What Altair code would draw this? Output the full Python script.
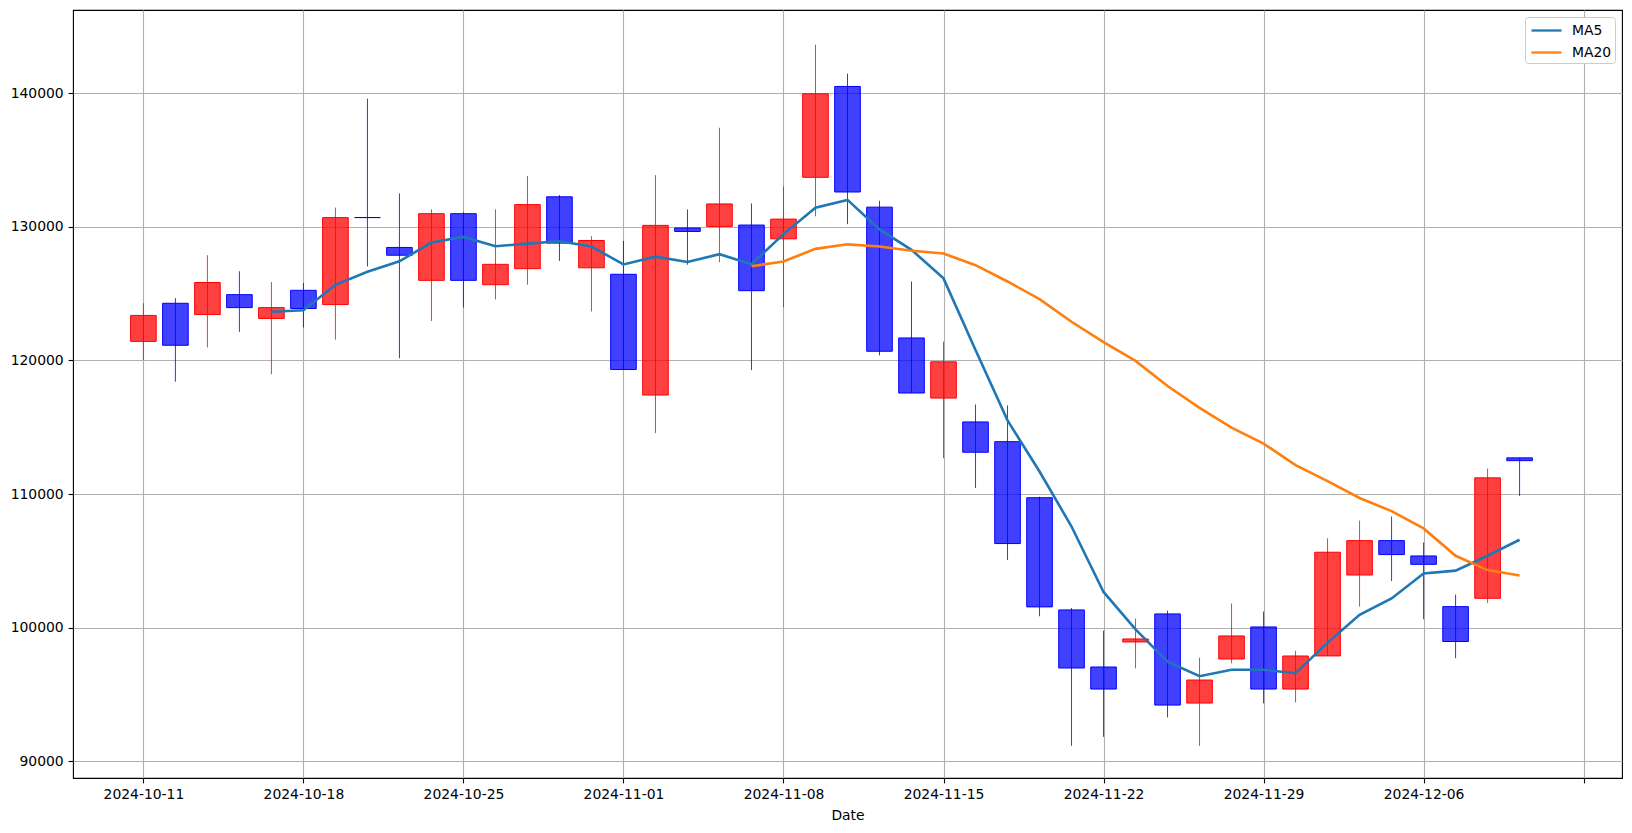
import altair as alt
import pandas as pd

# x tick labels (every 5th candle)
tick_labels = ["2024-10-11", "2024-10-18", "2024-10-25", "2024-11-01", "2024-11-08",
               "2024-11-15", "2024-11-22", "2024-11-29", "2024-12-06", ""]

opens = [121429, 124281, 123438, 124929, 123147, 125253, 124184, 130700, 128462, 125999,
         130990, 125675, 126874, 132254, 126939, 126453, 117410, 129921, 130036, 130139,
         129108, 133712, 140515, 131479, 121686, 117185, 115398, 113921, 109725, 101325,
         97050, 98925, 101025, 94350, 97650, 100050, 95400, 97880, 103937, 106513,
         105364, 101570, 102196, 112709]
highs = [124281, 124670, 127879, 126679, 125869, 125804, 131444, 139611, 132513, 131314,
         131100, 131314, 133810, 132384, 129305, 128948, 133875, 131314, 137423, 131754,
         133025, 143642, 141477, 131960, 125912, 121411, 116704, 116635, 109800, 101475,
         99775, 100675, 101275, 97750, 101800, 101200, 98275, 106687, 108010, 108323,
         106374, 102475, 111908, 112709]
lows = [120035, 118415, 120975, 122142, 118966, 122466, 121559, 127036, 120165, 122952,
        123957, 124573, 125675, 127457, 123665, 119322, 114558, 127166, 127356, 119281,
        123988, 130792, 130207, 120380, 117563, 112684, 110450, 105056, 100850, 91150,
        91820, 96950, 93275, 91150, 97325, 94325, 94400, 97880, 101570, 103485,
        100630, 97706, 101848, 109855]
closes = [123374, 121137, 125837, 123957, 123957, 123892, 130698, 130700, 127879, 130990,
          125999, 127198, 131671, 128786, 128981, 119322, 130115, 129661, 131719, 125225,
          130585, 139966, 132613, 120690, 117563, 119899, 113130, 106293, 101550, 96975,
          95400, 99150, 94200, 96075, 99375, 95400, 97875, 105642, 106513, 105468,
          104737, 98959, 111212, 112500]

ma_names = ["MA5", "MA20"]
ma_windows = [5, 20]
ma_colors = ["#1f77b4", "#ff7f0e"]

df = pd.DataFrame({
    "idx": list(range(len(closes))),
    "open": opens,
    "high": highs,
    "low": lows,
    "close": closes,
})

x_scale = alt.Scale(domain=[-2.2, 46.2], nice=False, zero=False)
y_scale = alt.Scale(domain=[88740, 146240], nice=False, zero=False)

label_expr = "[" + ",".join("'%s'" % t for t in tick_labels) + "][round(datum.value / 5)]"
x_axis = alt.Axis(values=[i * 5 for i in range(len(tick_labels))], labelExpr=label_expr,
                  title="Date", grid=True, labelFlush=False)
y_axis = alt.Axis(values=[90000, 100000, 110000, 120000, 130000, 140000], format="d",
                  title=None, grid=True)

up = "datum.close > datum.open"

base = alt.Chart(df)

wicks = base.mark_rule(strokeWidth=1, opacity=0.8).encode(
    x=alt.X("idx:Q", scale=x_scale, axis=x_axis),
    y=alt.Y("low:Q", scale=y_scale, axis=y_axis),
    y2="high:Q",
    color=alt.condition(up, alt.value("#ff0000"), alt.value("#0000ff")),
)

bodies = base.transform_calculate(
    x0="datum.idx - 0.4", x1="datum.idx + 0.4"
).mark_rect(strokeWidth=1, fillOpacity=0.75).encode(
    x=alt.X("x0:Q", scale=x_scale, axis=x_axis),
    x2="x1:Q",
    y=alt.Y("open:Q", scale=y_scale, axis=y_axis),
    y2="close:Q",
    fill=alt.condition(up, alt.value("#ff0000"), alt.value("#0000ff")),
    stroke=alt.condition(up, alt.value("#ff0000"), alt.value("#0000ff")),
)

color_scale = alt.Scale(domain=ma_names, range=ma_colors)
lines = []
for name, w in zip(ma_names, ma_windows):
    ln = base.transform_window(
        ma="mean(close)", cnt="count()", frame=[-(w - 1), 0], sort=[alt.SortField("idx")]
    ).transform_filter(
        "datum.cnt >= %d" % w
    ).transform_calculate(
        series="'%s'" % name
    ).mark_line(strokeWidth=2.6).encode(
        x=alt.X("idx:Q", scale=x_scale, axis=x_axis),
        y=alt.Y("ma:Q", scale=y_scale, axis=y_axis),
        color=alt.Color("series:N", scale=color_scale, sort=ma_names,
                        legend=alt.Legend(title=None, orient="top-right")),
    )
    lines.append(ln)

chart = alt.layer(wicks, bodies, *lines).properties(
    width=1549, height=768,
    autosize=alt.AutoSizeParams(type="none"),
    padding={"left": 73, "top": 10, "right": 10, "bottom": 55},
    background="white",
).configure_view(
    stroke="black", strokeWidth=1.1
).configure_axis(
    domain=False,
    tickColor="black", tickSize=4.9, tickWidth=1.1,
    labelFont="DejaVu Sans", labelFontSize=13.9, labelColor="black", labelPadding=4.9,
    gridColor="#b0b0b0", gridWidth=1.1,
    titleFont="DejaVu Sans", titleFontSize=13.9, titleFontWeight="normal", titleColor="black",
    titlePadding=7,
).configure_legend(
    offset=7, padding=3, strokeColor="#cccccc", fillColor="white", cornerRadius=3,
    labelFont="DejaVu Sans", labelFontSize=13.9, labelColor="black",
    symbolType="M-1.67,0L1.67,0", symbolSize=324, symbolStrokeWidth=2.3,
    symbolOffset=8, labelOffset=15, rowPadding=4,
)

chart.save("out.html", embed_options={"renderer": "svg", "actions": False})
